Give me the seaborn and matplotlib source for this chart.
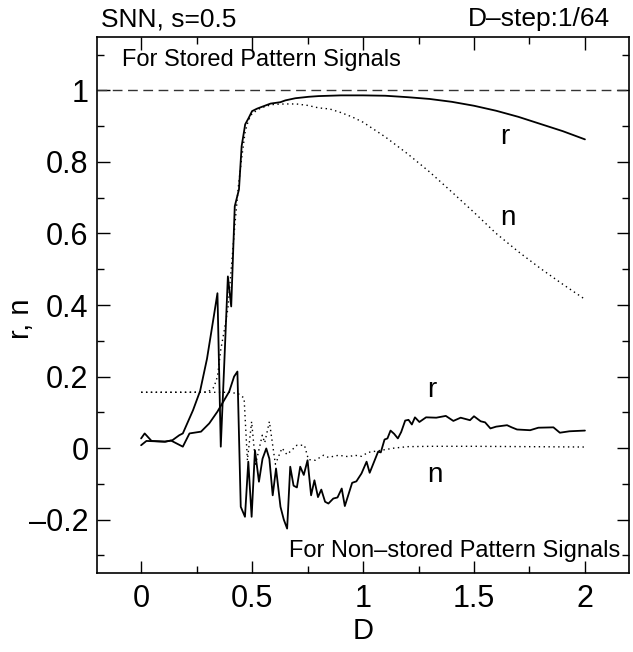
import matplotlib
matplotlib.use("Agg")
import matplotlib.pyplot as plt
from matplotlib.ticker import MultipleLocator, FuncFormatter
import seaborn as sns

# 存储模式信号 (stored pattern signals)
d_stored_r = [0, 0.016, 0.047, 0.078, 0.109, 0.141, 0.172, 0.188, 0.234, 0.266, 0.297,
              0.328, 0.344, 0.359, 0.375, 0.391, 0.406, 0.422, 0.441, 0.453, 0.469, 0.484,
              0.5, 0.523, 0.553, 0.583, 0.628, 0.65, 0.695, 0.754, 0.8, 0.9, 1.0, 1.1, 1.2,
              1.3, 1.4, 1.5, 1.6, 1.7, 1.8, 1.9, 2.0]
r_stored = [0.027, 0.041, 0.02, 0.019, 0.018, 0.022, 0.036, 0.041, 0.106, 0.16, 0.25,
            0.37, 0.433, 0.004, 0.24, 0.48, 0.396, 0.676, 0.723, 0.844, 0.905, 0.922,
            0.942, 0.949, 0.956, 0.963, 0.967, 0.972, 0.978, 0.982, 0.984, 0.986, 0.986,
            0.985, 0.981, 0.976, 0.968, 0.957, 0.943, 0.926, 0.906, 0.886, 0.863]

d_stored_n = [0, 0.1, 0.2, 0.3, 0.313, 0.328, 0.344, 0.359, 0.375, 0.391, 0.406, 0.422,
              0.438, 0.453, 0.469, 0.484, 0.5, 0.531, 0.563, 0.6, 0.65, 0.7, 0.75, 0.8,
              0.85, 0.9, 0.95, 1.0, 1.1, 1.2, 1.3, 1.4, 1.5, 1.6, 1.7, 1.8, 1.9, 2.0]
n_stored = [0.156, 0.156, 0.156, 0.157, 0.162, 0.17, 0.2, 0.275, 0.33, 0.39, 0.5, 0.62,
            0.73, 0.81, 0.885, 0.917, 0.935, 0.948, 0.956, 0.961, 0.962, 0.962, 0.958,
            0.951, 0.948, 0.938, 0.926, 0.911, 0.87, 0.823, 0.772, 0.716, 0.659, 0.6,
            0.549, 0.502, 0.458, 0.416]

# 非存储模式信号 (non-stored pattern signals)
d_non_r = [0, 0.024, 0.106, 0.135, 0.188, 0.218, 0.27, 0.307, 0.344, 0.397, 0.419, 0.434,
           0.449, 0.468, 0.483, 0.498, 0.513, 0.531, 0.547, 0.564, 0.578, 0.593, 0.608,
           0.628, 0.643, 0.658, 0.672, 0.687, 0.702, 0.717, 0.733, 0.75, 0.766, 0.781,
           0.797, 0.812, 0.829, 0.844, 0.866, 0.885, 0.904, 0.918, 0.951, 0.97, 0.993,
           1.016, 1.03, 1.068, 1.08, 1.097, 1.11, 1.124, 1.14, 1.157, 1.172, 1.19, 1.205,
           1.22, 1.234, 1.254, 1.284, 1.33, 1.373, 1.407, 1.44, 1.482, 1.5, 1.53, 1.55,
           1.574, 1.6, 1.649, 1.67, 1.694, 1.753, 1.79, 1.858, 1.887, 1.93, 2.0]
r_non = [0.008, 0.02, 0.018, 0.021, 0.004, 0.041, 0.046, 0.069, 0.102, 0.158, 0.2, 0.214,
         -0.164, -0.192, -0.038, -0.192, -0.006, -0.094, -0.03, -0.001, -0.03, -0.132, -0.057,
         -0.164, -0.2, -0.225, -0.052, -0.105, -0.11, -0.052, -0.075, -0.034, -0.132, -0.09,
         -0.137, -0.116, -0.15, -0.155, -0.141, -0.138, -0.113, -0.162, -0.097, -0.093, -0.071,
         -0.038, -0.069, -0.01, -0.012, 0.024, 0.027, 0.049, 0.04, 0.027, 0.045, 0.077, 0.079,
         0.066, 0.086, 0.073, 0.086, 0.085, 0.09, 0.076, 0.085, 0.078, 0.089, 0.075, 0.072,
         0.055, 0.06, 0.064, 0.058, 0.052, 0.05, 0.057, 0.058, 0.043, 0.047, 0.049]

d_non_n = [0, 0.2, 0.4, 0.438, 0.464, 0.479, 0.498, 0.516, 0.546, 0.557, 0.578, 0.605,
           0.635, 0.657, 0.68, 0.702, 0.736, 0.754, 0.785, 0.822, 0.844, 0.89, 0.934, 0.963,
           0.993, 1.023, 1.083, 1.14, 1.2, 1.306, 1.5, 1.75, 2.0]
n_non = [0.156, 0.156, 0.156, 0.152, 0.14, -0.034, 0.074, -0.045, 0.036, 0.015, 0.074,
         -0.045, 0.0, -0.018, -0.005, 0.008, 0.008, -0.032, -0.034, -0.02, -0.026, -0.02,
         -0.024, -0.02, -0.023, -0.012, -0.006, 0.0, 0.004, 0.005, 0.005, 0.004, 0.003]

sns.set_style("ticks")
plt.rcParams['font.family'] = ['Liberation Sans', 'DejaVu Sans']
plt.rcParams['text.color'] = 'black'
plt.rcParams['axes.labelcolor'] = 'black'

fig = plt.figure(figsize=(6.33, 6.52), dpi=100)
ax = fig.add_axes([0.1528, 0.1207, 0.8414, 0.823])

ax.axhline(1.0, color='#333333', lw=1.0, dashes=(7, 4), zorder=1)

dot = (0, (1, 2.5))
sns.lineplot(x=d_stored_r, y=r_stored, ax=ax, color='black', lw=1.3, sort=False, estimator=None)
sns.lineplot(x=d_stored_n, y=n_stored, ax=ax, color='black', lw=1.0, linestyle=dot, sort=False, estimator=None)
sns.lineplot(x=d_non_r, y=r_non, ax=ax, color='black', lw=1.3, sort=False, estimator=None)
sns.lineplot(x=d_non_n, y=n_non, ax=ax, color='black', lw=1.0, linestyle=dot, sort=False, estimator=None)

ax.set_xlim(-0.2, 2.2)
ax.set_ylim(-0.35, 1.15)
ax.xaxis.set_major_locator(MultipleLocator(0.5))
ax.xaxis.set_minor_locator(MultipleLocator(0.25))
ax.yaxis.set_major_locator(MultipleLocator(0.2))
ax.yaxis.set_minor_locator(MultipleLocator(0.1))


def fmt(v, pos):
    s = '%g' % round(v, 3)
    if s == '-0':
        s = '0'
    return s.replace('-', '\u2013')


ax.xaxis.set_major_formatter(FuncFormatter(fmt))
ax.yaxis.set_major_formatter(FuncFormatter(fmt))
ax.tick_params(which='both', direction='in', top=True, right=True, width=1.0, colors='black')
ax.tick_params(which='major', length=9, labelsize=22)
ax.tick_params(which='minor', length=5)
ax.tick_params(axis='x', pad=8)
ax.tick_params(axis='y', pad=6)
for sp in ax.spines.values():
    sp.set_linewidth(1.2)
    sp.set_color('black')

ax.set_xlabel('D', fontsize=21, labelpad=2)
ax.set_ylabel('r, n', fontsize=21)
ax.yaxis.set_label_coords(-0.115, 0.474)

ax.text(-0.085, 1.068, 'For Stored Pattern Signals', fontsize=17, va='baseline', ha='left')
ax.text(2.16, -0.3045, 'For Non\u2013stored Pattern Signals', fontsize=17, va='baseline', ha='right')
ax.text(1.639, 0.849, 'r', fontsize=20, ha='center', va='baseline')
ax.text(1.653, 0.625, 'n', fontsize=20, ha='center', va='baseline')
ax.text(1.309, 0.144, 'r', fontsize=20, ha='center', va='baseline')
ax.text(1.325, -0.094, 'n', fontsize=20, ha='center', va='baseline')

fig.text(101 / 633, 1 - 26 / 652, 'SNN, s=0.5', fontsize=19, va='baseline', ha='left')
fig.text(610 / 633, 1 - 26 / 652, 'D\u2013step:1/64', fontsize=19, va='baseline', ha='right')

fig.savefig('out.png', dpi=100)
